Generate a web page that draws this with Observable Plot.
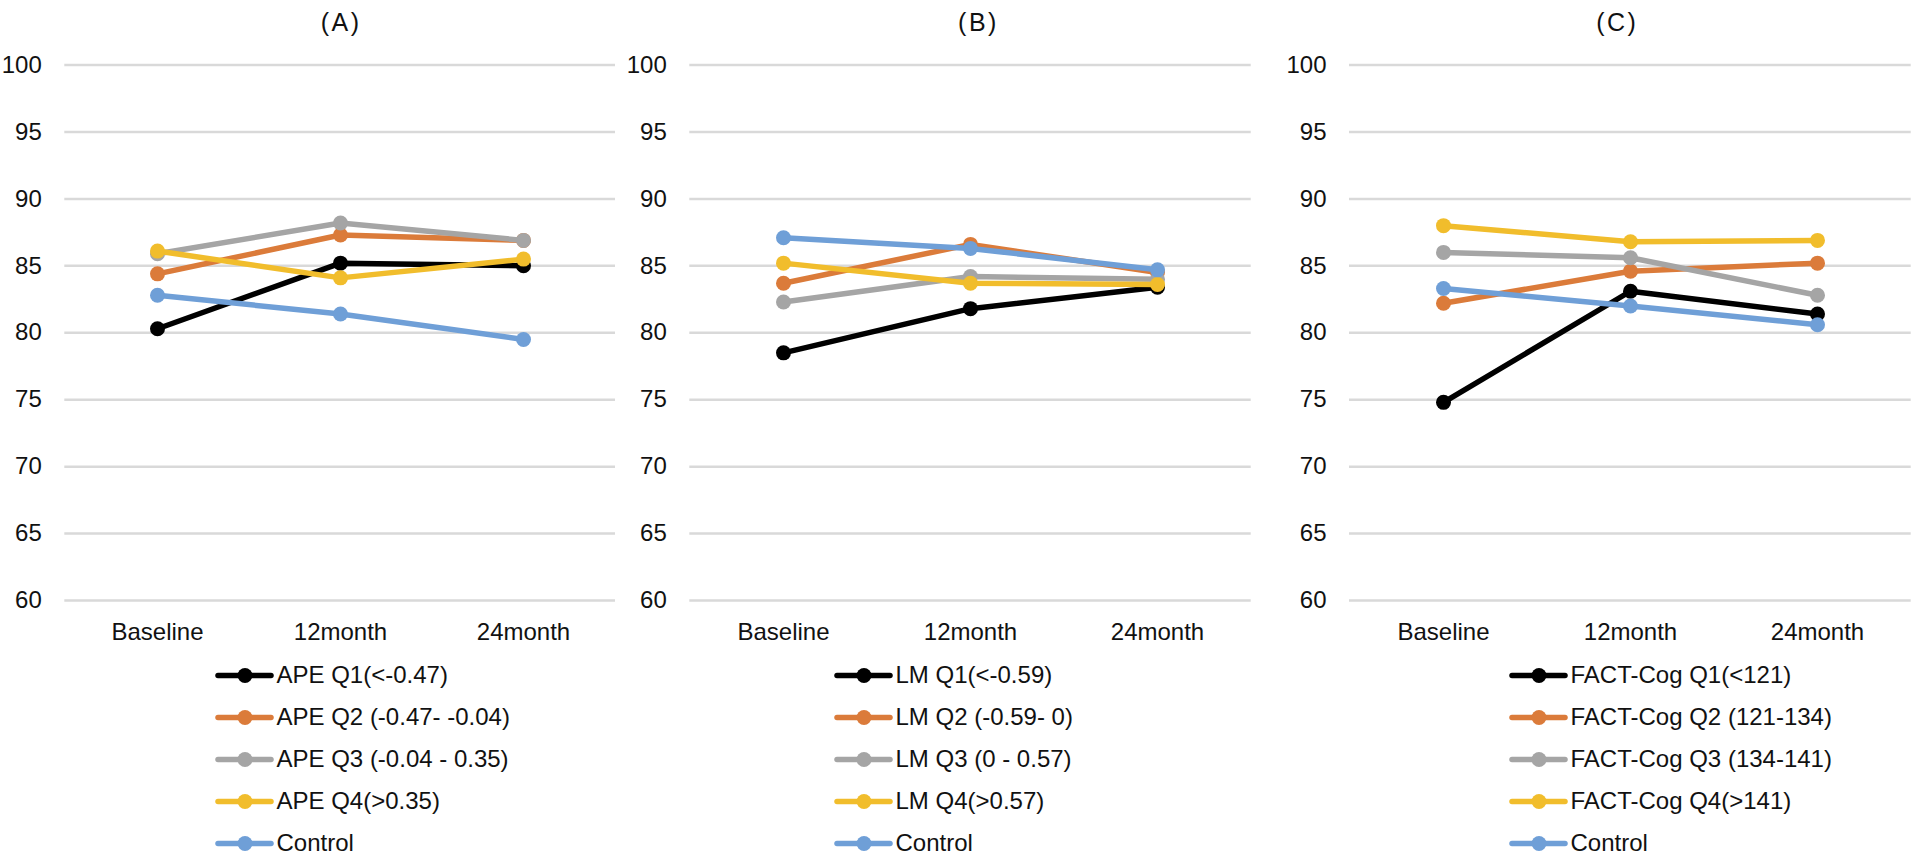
<!DOCTYPE html>
<html>
<head>
<meta charset="utf-8">
<script src="https://cdn.jsdelivr.net/npm/d3@7"></script>
<script src="https://cdn.jsdelivr.net/npm/@observablehq/plot@0.6"></script>
<style>
  body { margin: 0; background: #fff; }
  #root { position: relative; width: 1920px; height: 866px; overflow: hidden; background: #fff; }
  .panel, .legend { position: absolute; }
</style>
</head>
<body>
<div id="root"></div>
<script>
// ---- data ----
const timepoints = ["Baseline", "12month", "24month"];
const yTicks = [60, 65, 70, 75, 80, 85, 90, 95, 100];
const panelTitles = ["(A)", "(B)", "(C)"];
const seriesColors = ["#000000", "#db7b3a", "#a5a5a5", "#f1bd2c", "#6f9fd7"];

const seriesA = ["APE Q1(<-0.47)", "APE Q2 (-0.47- -0.04)", "APE Q3 (-0.04 - 0.35)", "APE Q4(>0.35)", "Control"];
const valuesA = [
  [80.3, 85.2, 85.0],
  [84.4, 87.3, 86.9],
  [85.9, 88.2, 86.9],
  [86.1, 84.1, 85.5],
  [82.8, 81.4, 79.5]
];

const seriesB = ["LM Q1(<-0.59)", "LM Q2 (-0.59- 0)", "LM Q3 (0 - 0.57)", "LM Q4(>0.57)", "Control"];
const valuesB = [
  [78.5, 81.8, 83.4],
  [83.7, 86.6, 84.5],
  [82.3, 84.2, 84.0],
  [85.2, 83.7, 83.6],
  [87.1, 86.3, 84.7]
];

const seriesC = ["FACT-Cog Q1(<121)", "FACT-Cog Q2 (121-134)", "FACT-Cog Q3 (134-141)", "FACT-Cog Q4(>141)", "Control"];
const valuesC = [
  [74.8, 83.1, 81.4],
  [82.2, 84.6, 85.2],
  [86.0, 85.6, 82.8],
  [88.0, 86.8, 86.9],
  [83.3, 82.0, 80.6]
];

// ---- layout ----
const FONT = "'Liberation Sans', Arial, Helvetica, sans-serif";
const panels = [
  {title: panelTitles[0], series: seriesA, values: valuesA, left: 0,    ml: 64.3, mr: 25,   tdx: 1,   legendLeft: 216.7},
  {title: panelTitles[1], series: seriesB, values: valuesB, left: 640,  ml: 49.3, mr: 29.3, tdx: 8,   legendLeft: 836.3},
  {title: panelTitles[2], series: seriesC, values: valuesC, left: 1280, ml: 69,   mr: 9.3,  tdx: -13, legendLeft: 1510.5}
];

const root = document.getElementById("root");

for (const p of panels) {
  const rows = [];
  p.series.forEach((s, i) => timepoints.forEach((t, j) => rows.push({series: s, idx: i, time: t, value: p.values[i][j]})));

  const seriesMarks = p.series.flatMap((s, i) => {
    const d = rows.filter(r => r.idx === i);
    return [
      Plot.line(d, {x: "time", y: "value", stroke: "series", strokeWidth: 5.5, strokeLinejoin: "round", strokeLinecap: "round"}),
      Plot.dot(d, {x: "time", y: "value", fill: "series", r: 7.5})
    ];
  });

  const chart = Plot.plot({
    width: 640,
    height: 650,
    marginLeft: p.ml,
    marginRight: p.mr,
    marginTop: 64.5,
    marginBottom: 50,
    style: {fontFamily: FONT, fontSize: "24px", color: "#111", background: "transparent", overflow: "visible"},
    x: {type: "point", domain: timepoints, padding: 0.5, label: null},
    y: {domain: [60, 100], label: null},
    color: {domain: p.series, range: seriesColors},
    marks: [
      Plot.ruleY(yTicks, {stroke: "#d9d9d9", strokeWidth: 2.5}),
      Plot.axisY({ticks: yTicks, tickSize: 0, tickPadding: 23, label: null, fontSize: 24}),
      Plot.axisX({tickSize: 0, tickPadding: 22, label: null, fontSize: 24}),
      ...seriesMarks,
      Plot.text([p.title], {frameAnchor: "top", lineAnchor: "middle", dy: -42, dx: p.tdx, fontSize: 25, fill: "#111"})
    ]
  });
  d3.select(chart).selectAll('g[aria-label="text"] text').attr("letter-spacing", "2.5px");
  chart.classList.add("panel");
  chart.style.left = p.left + "px";
  chart.style.top = "0px";
  root.appendChild(chart);

  // legend (line + marker swatches)
  const legW = 380, rowGap = 42.5, firstRow = 20;
  const legend = Plot.plot({
    width: legW,
    height: 215,
    margin: 0,
    style: {fontFamily: FONT, fontSize: "24px", color: "#111", background: "transparent", overflow: "visible"},
    x: {domain: [0, legW], range: [0, legW], axis: null},
    y: {type: "point", padding: 0, domain: p.series, range: [firstRow, firstRow + rowGap * (p.series.length - 1)], axis: null},
    color: {domain: p.series, range: seriesColors},
    marks: [
      Plot.ruleY(p.series, {y: d => d, x1: () => 1, x2: () => 54, stroke: d => d, strokeWidth: 5.5, strokeLinecap: "round"}),
      Plot.dot(p.series, {y: d => d, x: () => 27.5, fill: d => d, r: 7.5}),
      Plot.text(p.series, {y: d => d, x: () => 59, text: d => d, textAnchor: "start", fontSize: 24, fill: "#111"})
    ]
  });
  legend.classList.add("legend");
  legend.style.left = p.legendLeft + "px";
  legend.style.top = (673.5 - firstRow) + "px";
  root.appendChild(legend);
}
</script>
</body>
</html>
